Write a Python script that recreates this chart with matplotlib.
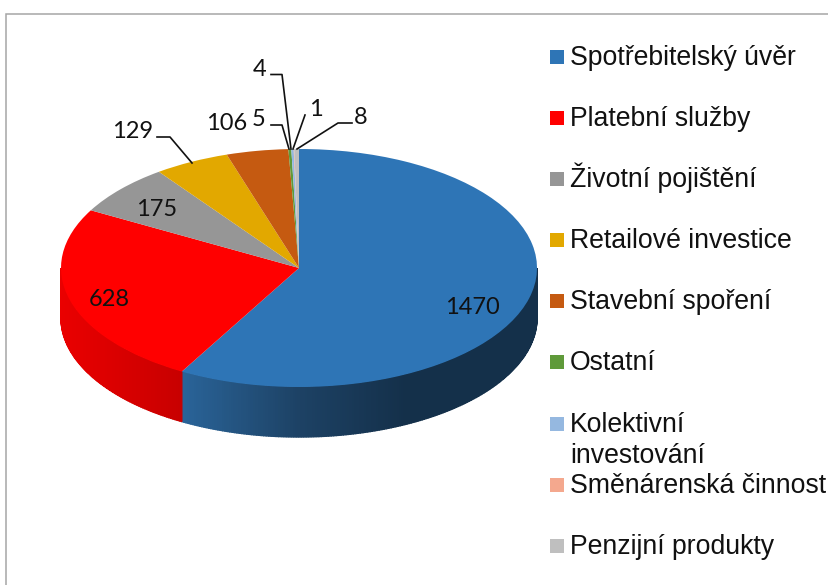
import numpy as np
import matplotlib
matplotlib.use("Agg")
import matplotlib.pyplot as plt
from matplotlib.patches import Rectangle
from matplotlib.colors import to_rgb

categories = ["Spotřebitelský úvěr", "Platební služby", "Životní pojištění", "Retailové investice",
              "Stavební spoření", "Ostatní", "Kolektivní\ninvestování", "Směnárenská činnost", "Penzijní produkty"]
values = [1470, 628, 175, 129, 106, 5, 4, 1, 8]
colors = ["#2E75B6", "#FF0000", "#969696", "#E2A800", "#C55A11", "#5F9A3A", "#95B8E0", "#F4A88E", "#BFBFBF"]

W, H = 829, 585
CX, CY, RX, RY, DEPTH = 299, 268, 238, 119, 50

fig = plt.figure(figsize=(W / 100, H / 100), dpi=100, facecolor="white")

# Pie axes: one data unit = pie radius, squashed to an ellipse
ax = fig.add_axes([0, 0, 1, 1])
wedges, _ = ax.pie(values, colors=colors, startangle=90, counterclock=False, radius=1,
                   wedgeprops=dict(linewidth=0))
for w in wedges:
    w.set_zorder(5)
ax.set_aspect("auto")
ax.set_xlim((0 - CX) / RX, (W - CX) / RX)
ax.set_ylim((CY - H) / RY, CY / RY)

# Side wall, from the same values; only the front half (-180..0 degrees) shows
d = DEPTH / RY
stops = {
    0: [(-1.0, "#19364F"), (-0.49, "#2A6499"), (0.0, "#1D4265"), (0.45, "#14304A"), (1.0, "#14304A")],
    1: [(-1.0, "#EA0000"), (-0.49, "#C80000"), (1.0, "#C80000")],
}
edges = 90 - np.cumsum([0] + values) / sum(values) * 360
for i, (a0, a1) in enumerate(zip(edges[:-1], edges[1:])):
    s, e = max(a1, -180), min(a0, 0)
    if e <= s:
        continue
    n = max(2, int((e - s) / 0.6))
    th = np.radians(np.linspace(s, e, n + 1))
    xs = [p[0] for p in stops[i]]
    for t0, t1 in zip(th[:-1], th[1:]):
        xm = np.cos((t0 + t1) / 2)
        rgb = [np.interp(xm, xs, [to_rgb(p[1])[k] for p in stops[i]]) for k in range(3)]
        tt = np.linspace(t0, t1, 3)
        xx = np.r_[np.cos(tt), np.cos(tt[::-1])]
        yy = np.r_[np.sin(tt), np.sin(tt[::-1]) - d]
        ax.fill(xx, yy, facecolor=rgb, edgecolor=rgb, linewidth=1.0, zorder=2)

# Overlay in pixel coordinates
ov = fig.add_axes([0, 0, 1, 1], facecolor="none")
ov.set_xlim(0, W)
ov.set_ylim(H, 0)
ov.axis("off")

# Chart frame
frame = "#A6A6A6"
ov.plot([6.5, 6.5, W], [H, 14.3, 14.3], color=frame, lw=1.1, solid_joinstyle="miter", zorder=1)

# Data labels
label_pos = [(472, 307), (109, 299), (157, 209), (133, 131), (227, 124), (259, 119), (260, 69), (316, 109), (361, 117)]
for v, (x, y) in zip(values, label_pos):
    ov.text(x, y, str(v), fontsize=17, family="Lato", color="#111111", ha="center", va="center", zorder=10)

# Leader lines
leaders = [
    ([157, 170, 192], [137, 137, 163]),
    ([271, 282, 289], [125, 125, 149]),
    ([271, 282, 291], [74.5, 74.5, 149]),
    ([305, 293], [115, 149]),
    ([352, 338, 297], [123, 123, 149]),
]
for xs, ys in leaders:
    ov.plot(xs, ys, color="#111111", lw=1.2, zorder=9)

# Legend
legend_y = [57, 118, 179, 240, 301, 362, 424, 485, 546]
for name, col, y in zip(categories, colors, legend_y):
    ov.add_patch(Rectangle((550, y - 7), 14, 14, facecolor=col, edgecolor="none", zorder=8))
    lines = name.split("\n")
    for j, line in enumerate(lines):
        ov.text(570, y + 8 + j * 31, line, fontsize=19.2, family="Liberation Sans", color="#111111",
                ha="left", va="baseline", zorder=8)

fig.savefig("out.png", dpi=100)
